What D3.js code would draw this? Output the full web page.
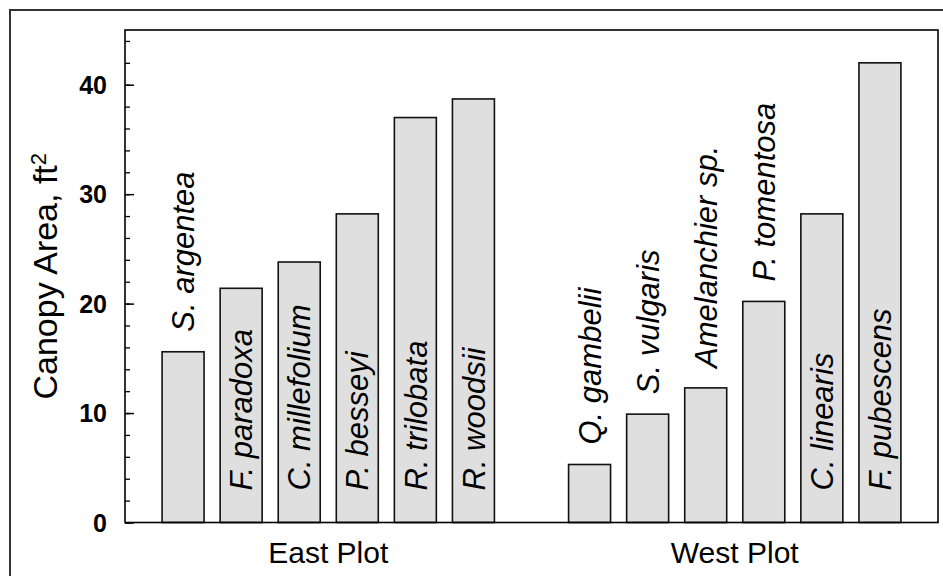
<!DOCTYPE html>
<html>
<head>
<meta charset="utf-8">
<script src="https://cdn.jsdelivr.net/npm/d3@7"></script>
<style>
  body { margin: 0; background: #fff; }
  text { font-family: Arial, "Liberation Sans", sans-serif; fill: #000; }
</style>
</head>
<body>
<div id="chart"></div>
<script>
// data
var eastSpecies = ["S. argentea", "F. paradoxa", "C. millefolium", "P. besseyi", "R. trilobata", "R. woodsii"];
var eastArea = [15.6, 21.4, 23.8, 28.2, 37.0, 38.7];
var westSpecies = ["Q. gambelii", "S. vulgaris", "Amelanchier sp.", "P. tomentosa", "C. linearis", "F. pubescens"];
var westArea = [5.3, 9.9, 12.3, 20.2, 28.2, 42.0];
var groupNames = ["East Plot", "West Plot"];
var yTicks = [0, 10, 20, 30, 40];

var width = 943, height = 576;
var margin = { top: 30, right: 5, bottom: 53.5, left: 125 };

var svg = d3
  .select("#chart")
  .append("svg")
  .attr("width", width)
  .attr("height", height);

// outer frame (runs off the right and bottom edge)
svg
  .append("rect")
  .attr("x", 10)
  .attr("y", 10)
  .attr("width", width + 20)
  .attr("height", height + 20)
  .attr("fill", "none")
  .attr("stroke", "#333")
  .attr("stroke-width", 2);

// one slot per bar, an empty slot between the two plots
var bars = [];
eastSpecies.forEach((s, i) => bars.push({ name: s, value: eastArea[i], pos: i + 1, group: 0 }));
westSpecies.forEach((s, i) => bars.push({ name: s, value: westArea[i], pos: i + 8, group: 1 }));

var x = d3
  .scaleLinear()
  .domain([0, 14])
  .range([margin.left, width - margin.right]);
var y = d3
  .scaleLinear()
  .domain([0, 45])
  .range([height - margin.bottom, margin.top]);

var step = x(1) - x(0);
var barW = step * 0.723;

// minor ticks
svg
  .append("g")
  .attr("transform", "translate(" + margin.left + ",0)")
  .call(d3.axisLeft(y).tickValues(d3.range(0, 46, 2)).tickSize(-5).tickFormat(""))
  .call((g) => g.select(".domain").remove())
  .selectAll("line")
  .attr("stroke", "#000")
  .attr("stroke-width", 1.3);

// major ticks + labels
var yAxis = svg
  .append("g")
  .attr("transform", "translate(" + margin.left + ",0)")
  .call(d3.axisLeft(y).tickValues(yTicks).tickSize(-9).tickPadding(18));
yAxis.select(".domain").remove();
yAxis.selectAll("line").attr("stroke", "#000").attr("stroke-width", 1.5);
yAxis
  .selectAll("text")
  .style("font-family", "Arial, 'Liberation Sans', sans-serif")
  .style("font-size", "25px")
  .style("font-weight", "bold")
  .attr("dy", "0.35em");

// bars
svg
  .selectAll("rect.bar")
  .data(bars)
  .enter()
  .append("rect")
  .attr("class", "bar")
  .attr("x", (d) => x(d.pos) - barW / 2)
  .attr("y", (d) => y(d.value))
  .attr("width", barW)
  .attr("height", (d) => y(0) - y(d.value))
  .attr("fill", "#dfdfdf")
  .attr("stroke", "#111")
  .attr("stroke-width", 1.6);

// species labels: inside the bar when they fit, otherwise on top
var labels = svg
  .selectAll("text.species")
  .data(bars)
  .enter()
  .append("text")
  .attr("class", "species")
  .style("font-size", "31px")
  .style("font-style", "italic")
  .attr("dy", "0.36em")
  .text((d) => d.name);

labels.each(function (d) {
  var len = this.getComputedTextLength();
  var barH = y(0) - y(d.value);
  var start = len + 32 + 25 < barH ? y(0) - 32 : y(d.value) - 20;
  d3.select(this).attr("transform", "translate(" + x(d.pos) + "," + start + ") rotate(-90)");
});

// plot frame
svg
  .append("rect")
  .attr("x", margin.left)
  .attr("y", margin.top)
  .attr("width", width - margin.right - margin.left)
  .attr("height", y(0) - margin.top)
  .attr("fill", "none")
  .attr("stroke", "#000")
  .attr("stroke-width", 1.6);

// group labels
svg
  .selectAll("text.group")
  .data(groupNames)
  .enter()
  .append("text")
  .attr("class", "group")
  .attr("x", (d, i) => x(d3.mean(bars.filter((b) => b.group == i), (b) => b.pos)))
  .attr("y", 563)
  .attr("text-anchor", "middle")
  .style("font-size", "30px")
  .text((d) => d);

// y axis title
var title = svg
  .append("text")
  .attr("transform", "translate(57," + (margin.top + y(0)) / 2 + ") rotate(-90)")
  .attr("text-anchor", "middle")
  .style("font-size", "34px");
title.append("tspan").text("Canopy Area, ft");
title.append("tspan").attr("dy", "-0.5em").style("font-size", "22px").text("2");
</script>
</body>
</html>
